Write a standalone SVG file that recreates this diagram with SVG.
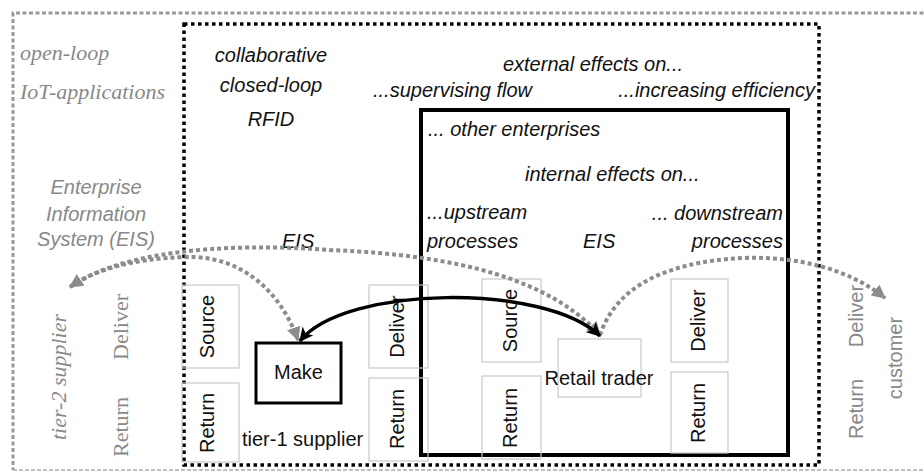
<svg xmlns="http://www.w3.org/2000/svg" width="924" height="473" viewBox="0 0 924 473">
<defs>
<style>
.bg{fill:#fff}
.box{fill:none;stroke:#c8c8c8;stroke-width:1.2}
.lbl{font-family:"Liberation Sans",Arial,sans-serif;font-size:20px;fill:#111}
.it{font-family:"Liberation Sans",Arial,sans-serif;font-size:20px;font-style:italic;fill:#111}
.git{font-family:"Liberation Sans",Arial,sans-serif;font-size:20px;font-style:italic;fill:#888}
.gser{font-family:"Liberation Serif","Times New Roman",serif;font-size:22px;fill:#888}
.gsan{font-family:"Liberation Sans",Arial,sans-serif;font-size:20px;fill:#888}
.gdot{fill:none;stroke:#8c8c8c;stroke-width:4;stroke-dasharray:4 3}
.bk{fill:none;stroke:#000;stroke-width:3.5}
</style>
<marker id="ga" viewBox="0 0 12 12" refX="11" refY="6" markerWidth="14" markerHeight="14" markerUnits="userSpaceOnUse" orient="auto-start-reverse">
<path d="M0,0 L12,6 L0,12 z" fill="#8c8c8c"/>
</marker>
<marker id="ba" viewBox="0 0 12 12" refX="11" refY="6" markerWidth="14" markerHeight="14" markerUnits="userSpaceOnUse" orient="auto-start-reverse">
<path d="M0,0 L12,6 L0,12 L3,6 z" fill="#000"/>
</marker>
</defs>
<rect class="bg" x="0" y="0" width="924" height="473"/>

<g id="frames">
<path d="M930 13 H13 V470" fill="none" stroke="#999" stroke-width="3" stroke-dasharray="4 2.5"/>
<path d="M13 470 H930" fill="none" stroke="#aaa" stroke-width="1.5" stroke-dasharray="4 2"/>
<rect x="184" y="24" width="635" height="441" fill="none" stroke="#000" stroke-width="3.5" stroke-dasharray="3.5 3.5"/>
<rect x="421" y="110" width="367" height="345" fill="none" stroke="#000" stroke-width="4"/>
</g>

<g id="labels-left">
<text class="gser" font-style="italic" x="20" y="60">open-loop</text>
<text class="gser" font-style="italic" x="20" y="99">IoT-applications</text>
<text class="git" x="96" y="194" text-anchor="middle">Enterprise</text>
<text class="git" x="96" y="221" text-anchor="middle">Information</text>
<text class="git" x="96" y="246" text-anchor="middle">System (EIS)</text>
</g>

<g id="labels-top">
<text class="it" x="271" y="62" text-anchor="middle">collaborative</text>
<text class="it" x="271" y="92" text-anchor="middle">closed-loop</text>
<text class="it" x="271" y="126" text-anchor="middle">RFID</text>
<text class="it" x="593" y="71" text-anchor="middle">external effects on...</text>
<text class="it" x="373" y="97">...supervising flow</text>
<text class="it" x="815" y="97" text-anchor="end">...increasing efficiency</text>
<text class="it" x="428" y="136">... other enterprises</text>
<text class="it" x="525" y="181">internal effects on...</text>
<text class="it" x="427" y="219">...upstream</text>
<text class="it" x="427" y="248">processes</text>
<text class="it" x="583" y="248">EIS</text>
<text class="it" x="783" y="220" text-anchor="end">... downstream</text>
<text class="it" x="783" y="248" text-anchor="end">processes</text>
<text class="it" x="282" y="248">EIS</text>
</g>

<g id="tier2">
<text class="gser" font-style="italic" transform="translate(66 377) rotate(-90)" text-anchor="middle">tier-2 supplier</text>
<text class="gser" transform="translate(128 327) rotate(-90)" text-anchor="middle">Deliver</text>
<text class="gser" transform="translate(128 427) rotate(-90)" text-anchor="middle">Return</text>
</g>

<g id="tier1">
<rect class="box" x="182" y="285" width="57" height="83"/>
<text class="lbl" transform="translate(214 326.5) rotate(-90)" text-anchor="middle">Source</text>
<rect class="box" x="182" y="383" width="57" height="79"/>
<text class="lbl" transform="translate(214 423) rotate(-90)" text-anchor="middle">Return</text>
<rect x="256" y="343" width="85" height="60" fill="#fff" stroke="#000" stroke-width="3"/>
<text class="lbl" x="298.5" y="379" text-anchor="middle">Make</text>
<rect class="box" x="369" y="285" width="59" height="83"/>
<text class="lbl" transform="translate(404 326.5) rotate(-90)" text-anchor="middle">Deliver</text>
<rect class="box" x="369" y="378" width="59" height="83"/>
<text class="lbl" transform="translate(404 419) rotate(-90)" text-anchor="middle">Return</text>
<text class="lbl" font-size="21" x="242" y="446">tier-1 supplier</text>
</g>

<g id="retail">
<rect class="box" x="482" y="279" width="59" height="83"/>
<text class="lbl" transform="translate(517 320.5) rotate(-90)" text-anchor="middle">Source</text>
<rect class="box" x="482" y="376" width="59" height="83"/>
<text class="lbl" transform="translate(517 418) rotate(-90)" text-anchor="middle">Return</text>
<rect class="box" x="558" y="339" width="83" height="58"/>
<text class="lbl" x="599" y="385" text-anchor="middle">Retail trader</text>
<rect class="box" x="671" y="279" width="57" height="83"/>
<text class="lbl" transform="translate(705 320.5) rotate(-90)" text-anchor="middle">Deliver</text>
<rect class="box" x="671" y="372" width="57" height="81"/>
<text class="lbl" transform="translate(705 413) rotate(-90)" text-anchor="middle">Return</text>
</g>

<g id="customer">
<text class="gsan" transform="translate(863 316) rotate(-90)" text-anchor="middle">Deliver</text>
<text class="gsan" transform="translate(863 409) rotate(-90)" text-anchor="middle">Return</text>
<text class="gsan" font-size="21" transform="translate(902 358) rotate(-90)" text-anchor="middle">customer</text>
</g>

<g id="connectors">
<path class="gdot" d="M298 340 C280 290,240 255,185 257 C130 259,95 270,70 287" marker-start="url(#ga)" marker-end="url(#ga)"/>
<path class="gdot" d="M600 335 C550 280,460 255,330 250 C220 242,120 252,70 287" marker-start="url(#ga)"/>
<path class="gdot" d="M600 335 C615 290,660 262,743 258 C800 256,850 270,885 298" marker-end="url(#ga)"/>
<path class="bk" d="M300 341 C345 285,545 283,600 336" marker-start="url(#ba)" marker-end="url(#ba)"/>
</g>
</svg>
